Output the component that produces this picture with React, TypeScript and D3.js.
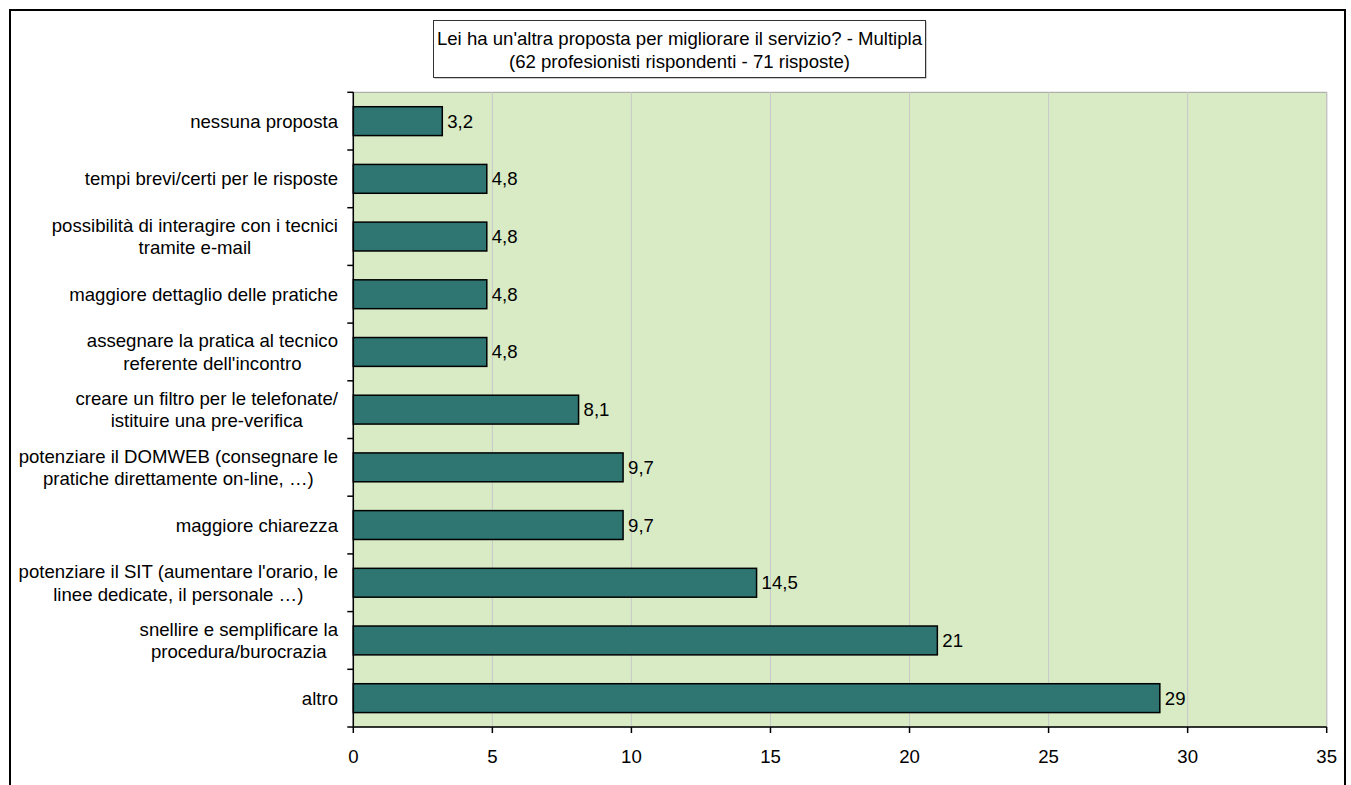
import React, { useEffect, useRef } from "react";
import * as d3 from "d3";

const categories: string[] = [
  "nessuna proposta",
  "tempi brevi/certi per le risposte",
  "possibilità di interagire con i tecnici\ntramite e-mail",
  "maggiore dettaglio delle pratiche",
  "assegnare la pratica al tecnico\nreferente dell'incontro",
  "creare un filtro per le telefonate/\nistituire una pre-verifica",
  "potenziare il DOMWEB (consegnare le\npratiche direttamente on-line, …)",
  "maggiore chiarezza",
  "potenziare il SIT (aumentare l'orario, le\nlinee dedicate, il personale …)",
  "snellire e semplificare la\nprocedura/burocrazia",
  "altro",
];
const values: number[] = [3.2, 4.8, 4.8, 4.8, 4.8, 8.1, 9.7, 9.7, 14.5, 21, 29];
const xTicks: number[] = [0, 5, 10, 15, 20, 25, 30, 35];
const titleLines: string[] = [
  "Lei ha un'altra proposta per migliorare il servizio? - Multipla",
  "(62 profesionisti rispondenti - 71 risposte)",
];

const W = 1351;
const H = 785;
const FONT = "'Liberation Sans', Arial, sans-serif";
const FS = 18.6;

export default function App() {
  const ref = useRef<SVGSVGElement>(null);

  useEffect(() => {
    const svg = d3.select(ref.current);
    svg.selectAll("*").remove();

    const left = 353.3, right = 1326.7, top = 92.3, bottom = 727;
    const x = d3.scaleLinear().domain([0, 35]).range([left, right]);
    const y = d3.scaleBand<string>().domain(categories).range([top, bottom]).paddingInner(0.5).paddingOuter(0.25);
    const band = d3.scaleBand<string>().domain(categories).range([top, bottom]);

    svg.append("rect").attr("x", 0).attr("y", 0).attr("width", W).attr("height", H).attr("fill", "#fff");
    // outer frame
    svg.append("rect").attr("x", 10).attr("y", 10).attr("width", 1335).attr("height", 800)
      .attr("fill", "none").attr("stroke", "#000").attr("stroke-width", 2);

    // plot background
    svg.append("rect").attr("x", left).attr("y", top).attr("width", right - left).attr("height", bottom - top)
      .attr("fill", "#D8EBC5").attr("stroke", "#A0A0A0").attr("stroke-width", 1);

    // grid
    svg.append("g").selectAll("line").data(xTicks.slice(1)).join("line")
      .attr("x1", (d) => x(d)).attr("x2", (d) => x(d)).attr("y1", top).attr("y2", bottom)
      .attr("stroke", "#C8C8C8").attr("stroke-width", 1);

    // bars
    svg.append("g").selectAll("rect").data(values).join("rect")
      .attr("x", x(0)).attr("y", (_d, i) => y(categories[i])!)
      .attr("width", (d) => x(d) - x(0)).attr("height", y.bandwidth())
      .attr("fill", "#2F7673").attr("stroke", "#000").attr("stroke-width", 1.5);

    // value labels
    svg.append("g").selectAll("text").data(values).join("text")
      .attr("x", (d) => x(d) + 5).attr("y", (_d, i) => y(categories[i])! + y.bandwidth() / 2)
      .attr("dy", "0.35em").attr("font-family", FONT).attr("font-size", FS).attr("fill", "#000")
      .text((d) => String(d).replace(".", ","));

    // axes lines
    svg.append("line").attr("x1", left).attr("x2", left).attr("y1", top).attr("y2", bottom + 0.5)
      .attr("stroke", "#000").attr("stroke-width", 1.5);
    svg.append("line").attr("x1", left - 6).attr("x2", right).attr("y1", bottom).attr("y2", bottom)
      .attr("stroke", "#000").attr("stroke-width", 1.5);
    // y ticks at band boundaries
    const bounds = categories.map((c) => band(c)!);
    svg.append("g").selectAll("line").data(bounds).join("line")
      .attr("x1", left - 6).attr("x2", left).attr("y1", (d) => d).attr("y2", (d) => d)
      .attr("stroke", "#000").attr("stroke-width", 1.5);
    // x ticks
    svg.append("g").selectAll("line").data(xTicks).join("line")
      .attr("x1", (d) => x(d)).attr("x2", (d) => x(d)).attr("y1", bottom).attr("y2", bottom + 6)
      .attr("stroke", "#000").attr("stroke-width", 1.5);
    svg.append("g").selectAll("text").data(xTicks).join("text")
      .attr("x", (d) => x(d)).attr("y", bottom + 29).attr("dy", "0.35em").attr("text-anchor", "middle")
      .attr("font-family", FONT).attr("font-size", FS).text((d) => String(d));

    // category labels: lines centered, block right-aligned
    const labelRight = 338;
    categories.forEach((c) => {
      const lines = c.split("\n");
      const cy = band(c)! + band.bandwidth() / 2;
      const g = svg.append("g");
      const texts = lines.map((ln, k) =>
        g.append("text").attr("font-family", FONT).attr("font-size", FS).attr("fill", "#000")
          .attr("text-anchor", "middle").attr("dy", "0.35em")
          .attr("y", cy + (k - (lines.length - 1) / 2) * 22.5).text(ln)
      );
      const maxW = d3.max(texts, (t) => (t.node() as SVGTextElement).getComputedTextLength()) || 0;
      texts.forEach((t) => t.attr("x", labelRight - maxW / 2));
    });

    // title box
    const tx = 433.5, tw = 492, ty = 20.5, th = 57;
    svg.append("rect").attr("x", tx + 1).attr("y", ty + 1).attr("width", tw).attr("height", th).attr("fill", "#999");
    svg.append("rect").attr("x", tx).attr("y", ty).attr("width", tw).attr("height", th)
      .attr("fill", "#fff").attr("stroke", "#333").attr("stroke-width", 1);
    titleLines.forEach((t, k) => {
      svg.append("text").attr("x", tx + tw / 2).attr("y", 38 + k * 23).attr("dy", "0.35em")
        .attr("text-anchor", "middle").attr("font-family", FONT).attr("font-size", FS).text(t);
    });
  }, []);

  return (
    <svg ref={ref} width={W} height={H} style={{ position: "absolute", left: 0, top: 0, display: "block" }} />
  );
}
